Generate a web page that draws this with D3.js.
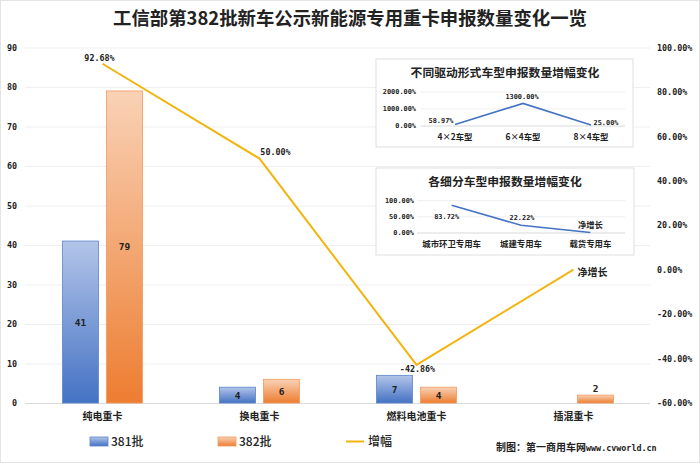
<!DOCTYPE html>
<html>
<head>
<meta charset="utf-8">
<script src="https://cdnjs.cloudflare.com/ajax/libs/d3/7.8.5/d3.min.js"></script>
<style>
  html, body { margin: 0; padding: 0; background: #fff; }
  svg { display: block; }
  text { font-family: "Noto Sans CJK SC", sans-serif; fill: #222; }
  .num { font-family: "DejaVu Sans Mono", "Noto Sans CJK SC", monospace; font-size: 8.4px; font-weight: 700; }
  .cat { font-size: 10px; font-weight: 700; }
</style>
</head>
<body>
<svg width="700" height="464"></svg>
<script>
const categories = ["纯电重卡", "换电重卡", "燃料电池重卡", "插混重卡"];
const batch381 = [41, 4, 7, null];
const batch382 = [79, 6, 4, 2];
const growth = [92.68, 50, -42.86, 0];
const growthLabels = ["92.68%", "50.00%", "-42.86%", "净增长"];

const leftTicks = [0, 10, 20, 30, 40, 50, 60, 70, 80, 90];
const rightTicks = [-60, -40, -20, 0, 20, 40, 60, 80, 100];

const driveCategories = ["4×2车型", "6×4车型", "8×4车型"];
const driveGrowth = [58.97, 1300, 25];
const driveLabels = ["58.97%", "1300.00%", "25.00%"];
const driveTicks = [0, 1000, 2000];

const typeCategories = ["城市环卫专用车", "城建专用车", "载货专用车"];
const typeGrowth = [83.72, 22.22, 0];
const typeLabels = ["83.72%", "22.22%", "净增长"];
const typeTicks = [0, 50, 100];

const svg = d3.select("svg");
const defs = svg.append("defs");

function addGradient(id, top, bottom) {
  const g = defs.append("linearGradient").attr("id", id)
    .attr("x1", 0).attr("y1", 0).attr("x2", 0).attr("y2", 1);
  g.append("stop").attr("offset", "0%").attr("stop-color", top);
  g.append("stop").attr("offset", "100%").attr("stop-color", bottom);
}
addGradient("blueFill", "#b3c5e8", "#4472c4");
addGradient("orangeFill", "#f9d2b6", "#ed7d31");

// labels with chinese text need a bigger size than the digits
const isWords = t => /[\u4e00-\u9fff]/.test(t);

// outer frame
svg.append("rect").attr("x", 0.5).attr("y", 0.5).attr("width", 699).attr("height", 462)
  .attr("fill", "#fff").attr("stroke", "#e4e4e4");

svg.append("text").attr("x", 350).attr("y", 25).attr("text-anchor", "middle")
  .attr("font-size", 18.4).attr("font-weight", 700)
  .text("工信部第382批新车公示新能源专用重卡申报数量变化一览");

const xScale = d3.scaleBand().domain(categories).range([24, 652]);
const yLeft = d3.scaleLinear().domain([0, 90]).range([403, 47.5]);
const yRight = d3.scaleLinear().domain([-60, 100]).range([403, 47.5]);

// left axis with gridlines
const leftAxis = svg.append("g").attr("transform", "translate(25,0)")
  .call(d3.axisLeft(yLeft).tickValues(leftTicks).tickSize(-625).tickPadding(8));
leftAxis.select(".domain").remove();
leftAxis.selectAll("line").attr("stroke", d => d === 0 ? "#d9d9d9" : "#efefef");
leftAxis.selectAll("text").attr("class", "num").attr("font-size", null).attr("font-family", null);

const rightAxis = svg.append("g").attr("transform", "translate(657,0)")
  .call(d3.axisRight(yRight).tickValues(rightTicks).tickSize(0).tickPadding(0).tickFormat(d => d.toFixed(2) + "%"));
rightAxis.select(".domain").remove();
rightAxis.selectAll("text").attr("class", "num").attr("font-size", null).attr("font-family", null);

svg.append("g").selectAll("text").data(categories).join("text")
  .attr("class", "cat").attr("text-anchor", "middle")
  .attr("x", d => xScale(d) + xScale.bandwidth() / 2).attr("y", 420)
  .text(d => d);

// bars
const barWidth = 36;
const barGap = 8;
function drawBars(values, side, fill, stroke) {
  const offset = side < 0 ? -barGap / 2 - barWidth : barGap / 2;
  const rows = categories.map((c, i) => ({ c: c, v: values[i] })).filter(d => d.v !== null);
  const xOf = d => xScale(d.c) + xScale.bandwidth() / 2 + offset;
  svg.append("g").selectAll("rect").data(rows).join("rect")
    .attr("x", xOf).attr("y", d => yLeft(d.v))
    .attr("width", barWidth).attr("height", d => yLeft(0) - yLeft(d.v))
    .attr("fill", fill).attr("stroke", stroke).attr("stroke-width", 0.8);
  svg.append("g").selectAll("text").data(rows).join("text")
    .attr("class", "num").attr("text-anchor", "middle")
    .style("font-size", "9.5px")
    .attr("x", d => xOf(d) + barWidth / 2)
    .attr("y", d => d.v < 3 ? yLeft(d.v) - 3 : (yLeft(d.v) + yLeft(0)) / 2 + 3.5)
    .text(d => d.v);
}
drawBars(batch381, -1, "url(#blueFill)", "#5b84cc");
drawBars(batch382, 1, "url(#orangeFill)", "#f19a5e");

// growth line
const growthPoints = categories.map((c, i) => ({ c: c, v: growth[i], label: growthLabels[i] }));
const mainLine = d3.line()
  .x(d => xScale(d.c) + xScale.bandwidth() / 2)
  .y(d => yRight(d.v));
svg.append("path").datum(growthPoints).attr("d", mainLine)
  .attr("fill", "none").attr("stroke", "#f2b50f").attr("stroke-width", 2);

const growthLabelOffsets = [[-3, -3], [16, -4], [1, 7], [19, 6]];
svg.append("g").selectAll("text").data(growthPoints).join("text")
  .attr("class", "num").attr("text-anchor", "middle")
  .style("font-size", d => isWords(d.label) ? "10px" : null)
  .attr("x", (d, i) => mainLine.x()(d) + growthLabelOffsets[i][0])
  .attr("y", (d, i) => yRight(d.v) + growthLabelOffsets[i][1])
  .text(d => d.label);

// legend
const legend = svg.append("g");
legend.append("rect").attr("x", 90).attr("y", 437).attr("width", 18).attr("height", 9)
  .attr("fill", "url(#blueFill)").attr("stroke", "#5b84cc").attr("stroke-width", 0.8);
legend.append("text").attr("x", 111).attr("y", 446).attr("font-size", 12).attr("font-weight", 500).text("381批");
legend.append("rect").attr("x", 218).attr("y", 437).attr("width", 18).attr("height", 9)
  .attr("fill", "url(#orangeFill)").attr("stroke", "#f19a5e").attr("stroke-width", 0.8);
legend.append("text").attr("x", 239).attr("y", 446).attr("font-size", 12).attr("font-weight", 500).text("382批");
legend.append("line").attr("x1", 346).attr("x2", 364).attr("y1", 441.5).attr("y2", 441.5)
  .attr("stroke", "#f2b50f").attr("stroke-width", 2);
legend.append("text").attr("x", 368).attr("y", 446).attr("font-size", 12).attr("font-weight", 500).text("增幅");

const source = svg.append("text").attr("x", 496).attr("y", 451)
  .attr("font-size", 10).attr("font-weight", 700);
source.append("tspan").text("制图：第一商用车网");
source.append("tspan").attr("class", "num").text("www.cvworld.cn");

// inset panels
function drawInset(opt) {
  const g = svg.append("g");
  g.append("rect").attr("x", opt.box[0]).attr("y", opt.box[1])
    .attr("width", opt.box[2]).attr("height", opt.box[3])
    .attr("fill", "#fff").attr("stroke", "#dfdfdf");
  g.append("text").attr("x", opt.titleX).attr("y", opt.box[1] + 18)
    .attr("text-anchor", "middle").attr("font-size", 11.8).attr("font-weight", 700)
    .text(opt.title);

  const x = d3.scaleBand().domain(opt.categories).range(opt.xRange);
  const y = d3.scaleLinear().domain(d3.extent(opt.ticks)).range(opt.yRange);

  const axis = g.append("g").attr("transform", `translate(${opt.xRange[0]},0)`)
    .call(d3.axisLeft(y).tickValues(opt.ticks).tickSize(-(opt.xRange[1] - opt.xRange[0]))
      .tickPadding(opt.tickPadding).tickFormat(d => d.toFixed(2) + "%"));
  axis.select(".domain").remove();
  axis.selectAll("line").attr("stroke", d => d === 0 ? "#d9d9d9" : "#efefef");
  axis.selectAll("text").attr("class", "num").style("font-size", "6.9px").attr("font-family", null);

  g.append("g").selectAll("text").data(opt.categories).join("text")
    .attr("text-anchor", "middle").attr("font-size", 8.4).attr("font-weight", 700)
    .attr("x", d => x(d) + x.bandwidth() / 2).attr("y", opt.yRange[0] + 14)
    .text(d => d);

  const pts = opt.categories.map((c, i) => ({ c: c, v: opt.values[i], label: opt.labels[i] }));
  const line = d3.line().x(d => x(d.c) + x.bandwidth() / 2).y(d => y(d.v));
  g.append("path").datum(pts).attr("d", line)
    .attr("fill", "none").attr("stroke", "#4472c4").attr("stroke-width", 1.6);
  g.append("g").selectAll("text").data(pts).join("text")
    .attr("class", "num").attr("text-anchor", "middle")
    .style("font-size", d => isWords(d.label) ? "8.3px" : "6.9px")
    .attr("x", (d, i) => line.x()(d) + opt.labelOffsets[i][0])
    .attr("y", (d, i) => y(d.v) + opt.labelOffsets[i][1])
    .text(d => d.label);
}

drawInset({
  box: [376, 59, 257, 88], title: "不同驱动形式车型申报数量增幅变化", titleX: 505,
  categories: driveCategories, values: driveGrowth, labels: driveLabels, ticks: driveTicks,
  xRange: [421, 625], yRange: [125.5, 91.5], tickPadding: 5,
  labelOffsets: [[-14, -1], [-1, -4], [15, 0]]
});
drawInset({
  box: [376, 168, 258, 87], title: "各细分车型申报数量增幅变化", titleX: 505,
  categories: typeCategories, values: typeGrowth, labels: typeLabels, ticks: typeTicks,
  xRange: [417, 625], yRange: [232.5, 200], tickPadding: 3,
  labelOffsets: [[-5, 14], [1, -5], [0, -5]]
});
</script>
</body>
</html>
